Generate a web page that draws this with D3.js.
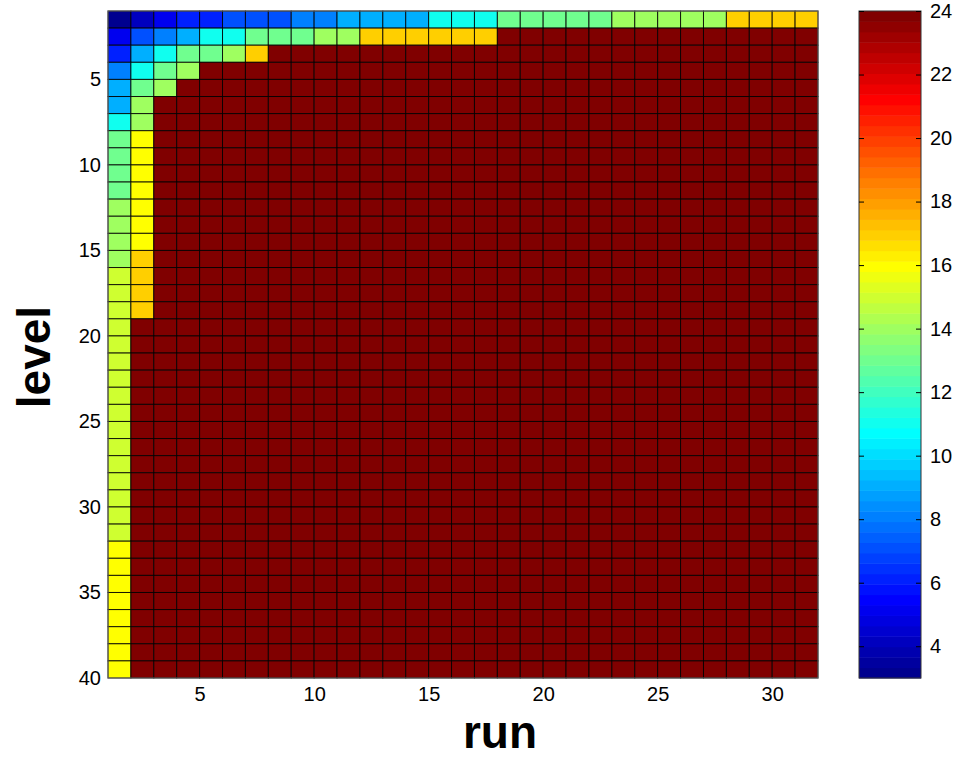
<!DOCTYPE html>
<html>
<head>
<meta charset="utf-8">
<script src="https://cdn.jsdelivr.net/npm/d3@7"></script>
<style>
  html, body { margin: 0; padding: 0; background: #fff; }
  svg { display: block; font-family: Arial, "Liberation Sans", Helvetica, sans-serif; }
</style>
</head>
<body>
<svg id="chart" width="961" height="758"></svg>
<script>
// ---- data ----
const runTicks = [5, 10, 15, 20, 25, 30];
const levelTicks = [5, 10, 15, 20, 25, 30, 35, 40];
const colorTicks = [4, 6, 8, 10, 12, 14, 16, 18, 20, 22, 24];
const colorLimits = [3, 24];
const nRuns = 31;     // cells along run (edges 1..32)
const nLevels = 39;   // cells along level (edges 1..40)
const saturated = 24; // value of the dark-red cells

// fully listed rows, levels 1..7 (runs 1..31)
const level1 = [3,4,5,6,6,7,7,7,8,8,9,9,9,9,11,11,11,13,13,13,13,13,14,14,14,14,14,17,17,17,17];
const level2 = [5,7,8,9,11,11,13,13,13,14,14,17,17,17,17,17,17,24,24,24,24,24,24,24,24,24,24,24,24,24,24];
const level3 = [6,9,11,13,13,14,17,24,24,24,24,24,24,24,24,24,24,24,24,24,24,24,24,24,24,24,24,24,24,24,24];
const level4 = [8,11,13,14,24,24,24,24,24,24,24,24,24,24,24,24,24,24,24,24,24,24,24,24,24,24,24,24,24,24,24];
const level5 = [9,13,14,24,24,24,24,24,24,24,24,24,24,24,24,24,24,24,24,24,24,24,24,24,24,24,24,24,24,24,24];
const level6 = [9,14,24,24,24,24,24,24,24,24,24,24,24,24,24,24,24,24,24,24,24,24,24,24,24,24,24,24,24,24,24];
const level7 = [11,14,24,24,24,24,24,24,24,24,24,24,24,24,24,24,24,24,24,24,24,24,24,24,24,24,24,24,24,24,24];
// levels 8..39: run 1 and run 2 (all other runs are saturated)
const run1Lower = [13,13,13,13,14,14,14,14,15,15,15,15,15,15,15,15,15,15,15,15,15,15,15,15,16,16,16,16,16,16,16,16];
const run2Lower = [16,16,16,16,16,16,16,17,17,17,17,24,24,24,24,24,24,24,24,24,24,24,24,24,24,24,24,24,24,24,24,24];

const upperRows = [level1, level2, level3, level4, level5, level6, level7];
const cells = [];
for (let L = 1; L <= nLevels; L++) {
  for (let R = 1; R <= nRuns; R++) {
    let v;
    if (L <= upperRows.length) v = upperRows[L - 1][R - 1];
    else if (R === 1) v = run1Lower[L - 8];
    else if (R === 2) v = run2Lower[L - 8];
    else v = saturated;
    cells.push({ level: L, run: R, value: v });
  }
}

// MATLAB jet(64)
function jet64(i) { // i = 1..64
  let r, g, b;
  if (i <= 8) { r = 0; g = 0; b = 0.5 + 0.0625 * i; }
  else if (i <= 24) { r = 0; g = (i - 8) / 16; b = 1; }
  else if (i <= 40) { r = (i - 24) / 16; g = 1; b = 1 - (i - 24) / 16; }
  else if (i <= 56) { r = 1; g = 1 - (i - 40) / 16; b = 0; }
  else { r = 1 - (i - 56) / 16; g = 0; b = 0; }
  return d3.rgb(Math.round(r * 255), Math.round(g * 255), Math.round(b * 255)).formatHex();
}
const jetColors = d3.range(1, 65).map(jet64);

// ---- drawing ----
const svg = d3.select("#chart");
const plot = { left: 108, right: 818, top: 11, bottom: 678 };
const cb = { left: 859, right: 921, top: 11, bottom: 678 };

const x = d3.scaleLinear().domain([1, nRuns + 1]).range([plot.left, plot.right]);
const y = d3.scaleLinear().domain([1, nLevels + 1]).range([plot.top, plot.bottom]);
const color = d3.scaleQuantize().domain(colorLimits).range(jetColors);

svg.append("g").selectAll("rect").data(cells).join("rect")
  .attr("x", d => x(d.run))
  .attr("y", d => y(d.level))
  .attr("width", d => x(d.run + 1) - x(d.run))
  .attr("height", d => y(d.level + 1) - y(d.level))
  .attr("fill", d => color(d.value))
  .attr("stroke", "#000")
  .attr("stroke-opacity", 0.85)
  .attr("stroke-width", 1);

// frame
svg.append("rect")
  .attr("x", plot.left).attr("y", plot.top)
  .attr("width", plot.right - plot.left).attr("height", plot.bottom - plot.top)
  .attr("fill", "none").attr("stroke", "#666").attr("stroke-width", 1);

// axes
const xAxis = svg.append("g")
  .attr("transform", `translate(0,${plot.bottom})`)
  .call(d3.axisBottom(x).tickValues(runTicks).tickSize(0).tickPadding(9));
const yAxis = svg.append("g")
  .attr("transform", `translate(${plot.left},0)`)
  .call(d3.axisLeft(y).tickValues(levelTicks).tickSize(0).tickPadding(7));
[xAxis, yAxis].forEach(g => {
  g.select(".domain").remove();
  g.selectAll("text").attr("font-size", 20).attr("font-family", "Arial, 'Liberation Sans', sans-serif").attr("fill", "#000");
});

// axis titles
svg.append("text")
  .attr("x", 500).attr("y", 748)
  .attr("text-anchor", "middle")
  .attr("font-size", 46).attr("font-weight", "bold")
  .text("run");
svg.append("text")
  .attr("transform", "translate(50,357) rotate(-90)")
  .attr("text-anchor", "middle")
  .attr("font-size", 46).attr("font-weight", "bold")
  .text("level");

// colorbar
const cy = d3.scaleLinear().domain(colorLimits).range([cb.bottom, cb.top]);
const bandStep = (colorLimits[1] - colorLimits[0]) / jetColors.length;
svg.append("g").selectAll("rect").data(jetColors).join("rect")
  .attr("x", cb.left)
  .attr("y", (c, i) => cy(colorLimits[0] + (i + 1) * bandStep))
  .attr("width", cb.right - cb.left)
  .attr("height", (c, i) => cy(colorLimits[0] + i * bandStep) - cy(colorLimits[0] + (i + 1) * bandStep) + 0.5)
  .attr("fill", c => c);
svg.append("rect")
  .attr("x", cb.left).attr("y", cb.top)
  .attr("width", cb.right - cb.left).attr("height", cb.bottom - cb.top)
  .attr("fill", "none").attr("stroke", "#333").attr("stroke-width", 1);

const cAxisR = svg.append("g")
  .attr("transform", `translate(${cb.right},0)`)
  .call(d3.axisRight(cy).tickValues(colorTicks).tickSizeInner(-5).tickSizeOuter(0).tickPadding(9));
const cAxisL = svg.append("g")
  .attr("transform", `translate(${cb.left},0)`)
  .call(d3.axisLeft(cy).tickValues(colorTicks).tickSizeInner(-5).tickSizeOuter(0).tickFormat(""));
[cAxisR, cAxisL].forEach(g => {
  g.select(".domain").remove();
  g.selectAll("line").attr("stroke", "#000");
});
cAxisR.selectAll("text").attr("font-size", 20).attr("font-family", "Arial, 'Liberation Sans', sans-serif").attr("fill", "#000");
</script>
</body>
</html>
